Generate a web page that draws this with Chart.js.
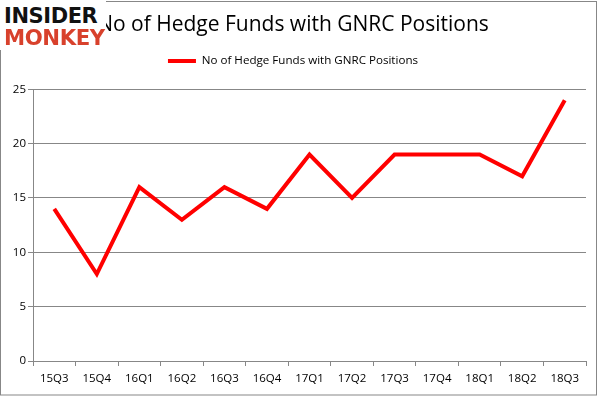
<!DOCTYPE html>
<html>
<head>
<meta charset="utf-8">
<script src="https://cdn.jsdelivr.net/npm/chart.js@4.4.1/dist/chart.umd.min.js"></script>
<style>
  html, body { margin: 0; padding: 0; background: #fff; }
  #wrap { position: relative; width: 601px; height: 396px; }
  #logo { position: absolute; left: 0; top: 0; width: 106px; height: 50px; background: #fff; }
  .lg { position: absolute; left: 4px; font-family: "DejaVu Sans", sans-serif; font-weight: 900;
        font-size: 25px; line-height: 25px; transform-origin: 0 0; letter-spacing: -0.5px; white-space: nowrap; }
  #l1 { top: 5px; color: #111; transform: scale(0.84, 0.85); }
  #l2 { top: 27px; color: #d8412c; transform: scale(0.85, 0.85); }
</style>
</head>
<body>
<div id="wrap">
  <canvas id="c" width="601" height="396"></canvas>
  <div id="logo"><span class="lg" id="l1">INSIDER</span><span class="lg" id="l2">MONKEY</span></div>
</div>
<script>
const categories = ['15Q3','15Q4','16Q1','16Q2','16Q3','16Q4','17Q1','17Q2','17Q3','17Q4','18Q1','18Q2','18Q3'];
const hedgeFunds = [14, 8, 16, 13, 16, 14, 19, 15, 19, 19, 19, 17, 24];
const seriesName = 'No of Hedge Funds with GNRC Positions';
const chartTitle = 'No of Hedge Funds with GNRC Positions';
const yMin = 0, yMax = 25, yStep = 5;

const FONT = '"Open Sans", "Liberation Sans", sans-serif';
const GRID = '#878787';

const frame = {
  id: 'frame',
  beforeInit(chart) {
    const l = chart.legend;
    if (l) {
      const f = l.fit.bind(l);
      l.fit = function () { f(); this.height += 12.5; };
    }
  },
  afterDraw(chart) {
    const ctx = chart.ctx;
    ctx.save();
    ctx.strokeStyle = GRID;
    ctx.lineWidth = 1;
    ctx.strokeRect(0.5, 1.5, 596, 393.5);
    ctx.restore();
  }
};

new Chart(document.getElementById('c'), {
  type: 'line',
  data: {
    labels: categories,
    datasets: [{
      label: seriesName,
      data: hedgeFunds,
      borderColor: '#ff0000',
      backgroundColor: '#ff0000',
      borderWidth: 4,
      pointRadius: 0,
      tension: 0,
      fill: false
    }]
  },
  options: {
    responsive: false,
    animation: false,
    layout: { padding: { left: 0, right: 15, top: 0, bottom: 0 } },
    plugins: {
      title: {
        display: true,
        text: chartTitle,
        color: '#000',
        font: { family: FONT, size: 21, weight: 'normal' },
        padding: { top: 12, bottom: 8 }
      },
      legend: {
        display: true,
        labels: {
          usePointStyle: true,
          pointStyle: 'line',
          pointStyleWidth: 28,
          color: '#000',
          padding: 10,
          font: { family: FONT, size: 11.6 }
        }
      },
      tooltip: { enabled: false }
    },
    scales: {
      x: {
        offset: true,
        grid: { offset: true, drawOnChartArea: false, color: GRID, tickLength: 5, tickColor: GRID },
        border: { color: GRID },
        ticks: { color: '#000', padding: 6, font: { family: FONT, size: 11.5 }, maxRotation: 0, autoSkip: false },
        afterFit(axis) { axis.height = 35; }
      },
      y: {
        min: yMin, max: yMax,
        ticks: { stepSize: yStep, color: '#000', padding: 2, font: { family: FONT, size: 11.5 } },
        grid: { color: GRID, tickLength: 5, tickColor: GRID },
        border: { color: GRID },
        afterFit(axis) { axis.width = 33; }
      }
    }
  },
  plugins: [frame]
});
</script>
</body>
</html>
